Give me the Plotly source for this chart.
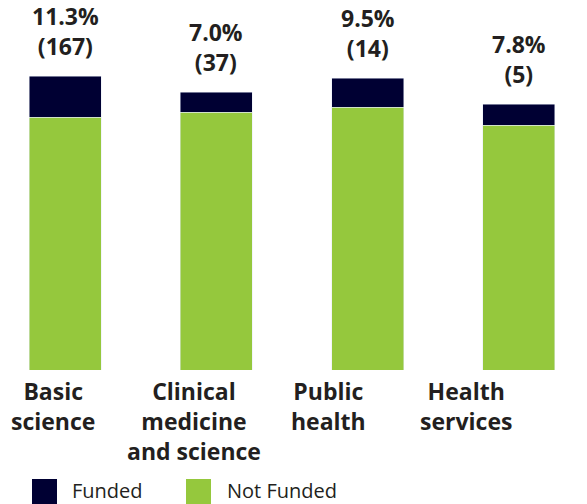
import plotly.graph_objects as go

categories = ["Basic science", "Clinical medicine and science", "Public health", "Health services"]
category_labels = ["Basic<br>science", "Clinical<br>medicine<br>and science", "Public<br>health", "Health<br>services"]
not_funded = [253, 258, 263, 245]
funded = [41, 20, 29, 21]
pct_labels = ["11.3%", "7.0%", "9.5%", "7.8%"]
count_labels = ["(167)", "(37)", "(14)", "(5)"]

NAVY = "#000033"
GREEN = "#95c83d"
TEXT = "#231f20"
FONT = "Open Sans"
W, H = 587, 504
PLOT_BOTTOM = 370

x = list(range(len(categories)))

fig = go.Figure()
fig.add_trace(go.Bar(x=x, y=not_funded, name="Not Funded", marker_color=GREEN, showlegend=False))
fig.add_trace(go.Bar(x=x, y=funded, name="Funded", marker_color=NAVY, showlegend=False))

annotations = []
for i in x:
    total = not_funded[i] + funded[i]
    annotations.append(dict(
        x=i, y=total, xref="x", yref="y", yanchor="bottom", yshift=12,
        text=f"<b>{pct_labels[i]}<br>{count_labels[i]}</b>", showarrow=False,
        font=dict(family=FONT, size=23, color=TEXT), align="center"))

label_shift = [-12, -22, -39, -53]
for i in x:
    annotations.append(dict(
        x=i, y=0, xref="x", yref="y", yanchor="top", yshift=-3, xshift=label_shift[i],
        text=f"<b>{category_labels[i]}</b>", showarrow=False,
        font=dict(family=FONT, size=23, color=TEXT), align="center"))

def py(pix):
    return (PLOT_BOTTOM - pix) / PLOT_BOTTOM

shapes = []
legend_items = [("Funded", NAVY, 32, 71), ("Not Funded", GREEN, 186, 226)]
for name, col, sx, tx in legend_items:
    shapes.append(dict(type="rect", xref="paper", yref="paper",
                       x0=sx / W, x1=(sx + 25) / W, y0=py(479), y1=py(505),
                       fillcolor=col, line=dict(width=0)))
    annotations.append(dict(x=tx / W, y=py(490), xref="paper", yref="paper",
                            xanchor="left", yanchor="middle", text=name, showarrow=False,
                            borderpad=0,
                            font=dict(family=FONT, size=20, color=TEXT)))

fig.update_layout(
    barmode="stack",
    bargap=0.524,
    width=W, height=H,
    margin=dict(l=0, r=0, t=0, b=H - PLOT_BOTTOM),
    paper_bgcolor="white", plot_bgcolor="white",
    xaxis=dict(range=[-0.43, 3.45], showticklabels=False, showgrid=False, zeroline=False, showline=False),
    yaxis=dict(range=[0, PLOT_BOTTOM], showticklabels=False, showgrid=False, zeroline=False, showline=False),
    annotations=annotations, shapes=shapes,
)

fig.write_html("out.html", config={"displayModeBar": False},
               post_script="document.body.style.margin='0';document.body.style.overflow='hidden';")
